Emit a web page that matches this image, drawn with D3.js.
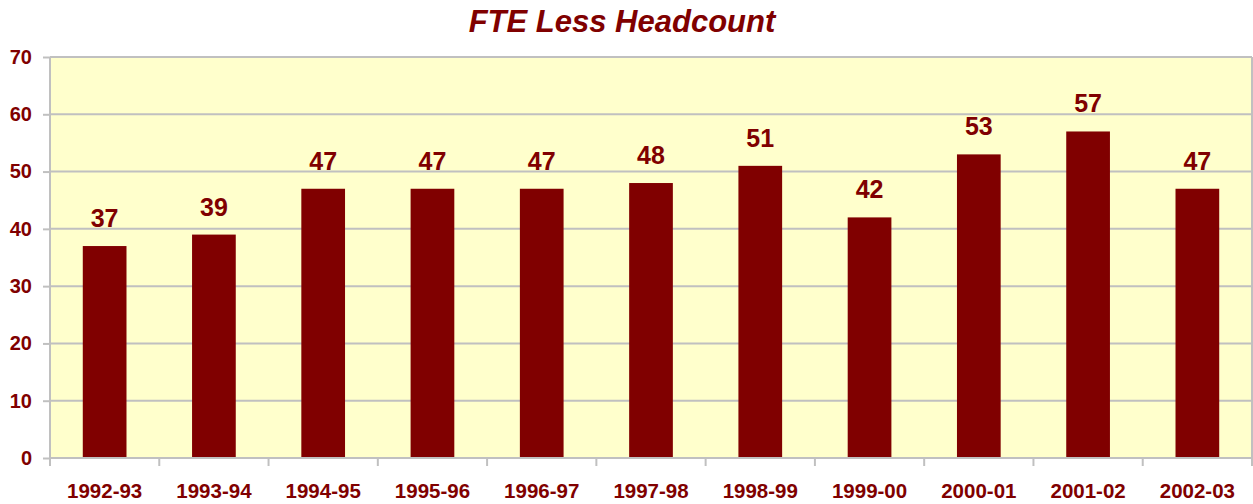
<!DOCTYPE html>
<html><head><meta charset="utf-8">
<script src="https://cdn.jsdelivr.net/npm/d3@7"></script>
<style>body{margin:0;background:#fff}svg{display:block}</style>
</head><body>
<svg id="c" width="1253" height="504"></svg>
<script>
const categories = ["1992-93","1993-94","1994-95","1995-96","1996-97","1997-98","1998-99","1999-00","2000-01","2001-02","2002-03"];
const values = [37,39,47,47,47,48,51,42,53,57,47];
const yTicks = [0,10,20,30,40,50,60,70];
const title = "FTE Less Headcount";

const svg = d3.select("#c");
const L=50, R=1252, T=57, B=458;
const red="#800000";
const font="Liberation Sans, Arial, sans-serif";
const x = d3.scaleBand().domain(categories).range([L,R]).paddingInner(0.6).paddingOuter(0.3);
const xb = d3.scaleBand().domain(categories).range([L,R]);
const y = d3.scaleLinear().domain([0,70]).range([B,T]);

svg.append("rect").attr("x",L).attr("y",T).attr("width",R-L).attr("height",B-T).attr("fill","#ffffcc");
svg.append("g").selectAll("line").data(yTicks.filter(d=>d>0)).join("line")
  .attr("x1",L).attr("x2",R).attr("y1",d=>y(d)).attr("y2",d=>y(d))
  .attr("stroke","#c0c0c0").attr("stroke-width",2);
svg.append("line").attr("x1",R).attr("x2",R).attr("y1",T).attr("y2",B).attr("stroke","#c0c0c0").attr("stroke-width",2);

svg.append("g").selectAll("rect").data(values).join("rect")
  .attr("x",(d,i)=>x(categories[i])).attr("width",x.bandwidth())
  .attr("y",d=>y(d)).attr("height",d=>B-y(d)).attr("fill",red);

svg.append("g").selectAll("text").data(values).join("text")
  .attr("x",(d,i)=>x(categories[i])+x.bandwidth()/2).attr("y",d=>y(d)-19)
  .attr("text-anchor","middle").attr("fill",red)
  .attr("font-family",font).attr("font-weight","bold").attr("font-size",25)
  .text(d=>d);

// y axis
const ya = svg.append("g").attr("transform",`translate(${L},0)`)
  .call(d3.axisLeft(y).tickValues(yTicks).tickSize(7).tickPadding(11));
ya.select(".domain").attr("stroke","#c0c0c0").attr("stroke-width",2).attr("d",`M0,${T}V${B}`);
ya.selectAll(".tick line").attr("stroke","#c0c0c0").attr("stroke-width",2);
ya.selectAll(".tick text").attr("fill",red).attr("font-family",font)
  .attr("font-weight","bold").attr("font-size",20);

// x axis
const xa = svg.append("g").attr("transform",`translate(0,${B})`)
  .call(d3.axisBottom(xb).tickSize(0).tickPadding(0));
xa.select(".domain").attr("stroke","#c0c0c0").attr("stroke-width",2).attr("d",`M${L},0H${R}`);
xa.selectAll(".tick text").attr("fill",red).attr("font-family",font)
  .attr("font-weight","bold").attr("font-size",20.5).attr("dy",null).attr("y",40);
svg.append("g").selectAll("line").data(categories).join("line")
  .attr("x1",d=>xb(d)).attr("x2",d=>xb(d)).attr("y1",B).attr("y2",B+8)
  .attr("stroke","#c0c0c0").attr("stroke-width",2);
svg.append("line").attr("x1",R).attr("x2",R).attr("y1",B).attr("y2",B+8).attr("stroke","#c0c0c0").attr("stroke-width",2);

svg.append("text").attr("x",622).attr("y",32).attr("text-anchor","middle")
  .attr("fill",red).attr("font-family",font)
  .attr("font-weight","bold").attr("font-style","italic").attr("font-size",31).text(title);
</script>
</body></html>
